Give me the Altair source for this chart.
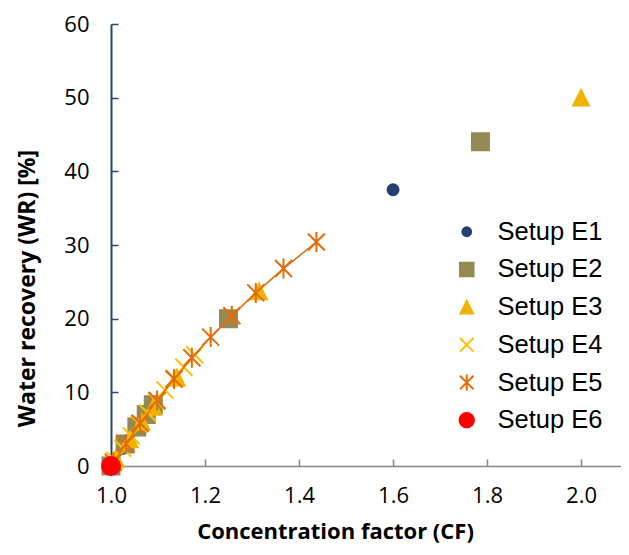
import altair as alt
import pandas as pd

# ---- data ----
series_names = ["Setup E1", "Setup E2", "Setup E3", "Setup E4", "Setup E5", "Setup E6"]

e1_cf = [1.005, 1.025, 1.6]
e1_wr = [0.5, 2.4, 37.5]

e2_cf = [1.0, 1.03, 1.055, 1.075, 1.09, 1.25, 1.786]
e2_wr = [0.0, 3.0, 5.3, 7.0, 8.3, 20.0, 44.0]

e3_cf = [1.01, 1.04, 1.065, 1.09, 1.14, 1.315, 2.0]
e3_wr = [1.0, 3.6, 6.0, 8.0, 12.0, 23.7, 50.0]

e4_cf = [1.008, 1.025, 1.043, 1.06, 1.078, 1.097, 1.115, 1.135, 1.155, 1.178]
e4_wr = [0.8, 2.4, 4.1, 5.7, 7.2, 8.8, 10.3, 11.9, 13.4, 15.1]

e5_cf = [1.005, 1.032, 1.062, 1.098, 1.134, 1.172, 1.212, 1.257, 1.308, 1.367, 1.437]
e5_wr = [0.5, 3.0, 5.8, 8.9, 11.8, 14.7, 17.5, 20.4, 23.5, 26.8, 30.4]

e6_cf = [1.0]
e6_wr = [0.0]

x_ticks = [1.0, 1.2, 1.4, 1.6, 1.8, 2.0]
y_ticks = [0, 10, 20, 30, 40, 50, 60]

# ---- styles ----
colors = ["#243F72", "#948A54", "#F0B400", "#FFC000", "#E46C0A", "#FF0000"]
shapes = [
    "M-0.55,0A0.55,0.55 0 1,0 0.55,0A0.55,0.55 0 1,0 -0.55,0Z",
    "M-0.85,-0.85L0.85,-0.85L0.85,0.85L-0.85,0.85Z",
    "M0,-0.78L0.78,0.78L-0.78,0.78Z",
    "M-0.85,-0.85L0.85,0.85M-0.85,0.85L0.85,-0.85",
    "M-0.85,-0.85L0.85,0.85M-0.85,0.85L0.85,-0.85M0,-1L0,1",
    "M-0.9,0A0.9,0.9 0 1,0 0.9,0A0.9,0.9 0 1,0 -0.9,0Z",
]

frames = []
for name, cf, wr in [
    ("Setup E1", e1_cf, e1_wr),
    ("Setup E2", e2_cf, e2_wr),
    ("Setup E3", e3_cf, e3_wr),
    ("Setup E4", e4_cf, e4_wr),
    ("Setup E5", e5_cf, e5_wr),
    ("Setup E6", e6_cf, e6_wr),
]:
    frames.append(pd.DataFrame({"series": name, "cf": cf, "wr": wr}))
df = pd.concat(frames, ignore_index=True)

W, H = 510, 442
xscale = alt.Scale(domain=[1.0, 2.085], nice=False, zero=False)
yscale = alt.Scale(domain=[0, 60], nice=False)
cscale = alt.Scale(domain=series_names, range=colors)
sscale = alt.Scale(domain=series_names, range=shapes)

legend = alt.Legend(
    title=None, orient="none", legendX=343, legendY=195, padding=0,
    labelFont="Liberation Sans", labelFontSize=25.5, labelColor="#000000",
    symbolSize=256, symbolStrokeWidth=2, rowPadding=10.7, labelOffset=18,
)

x_main = alt.Axis(
    orient="bottom", values=x_ticks, format=".1f", ticks=False, tickSize=0,
    grid=False, domainColor="#878787", domainWidth=1.5, labelFlush=False,
    labelFont="Open Sans", labelFontSize=22, labelColor="#000000", labelPadding=19,
    title="Concentration factor (CF)", titleFont="Open Sans", titleFontSize=22,
    titleFontWeight="bold", titleColor="#000000", titleX=224, titleY=65,
    titleBaseline="middle", titleAlign="center", titleAnchor="start",
)
y_main = alt.Axis(
    orient="left", values=y_ticks, ticks=False, tickSize=0, grid=False,
    domainColor="#264478", domainWidth=2, labelFlush=False,
    labelFont="Open Sans", labelFontSize=22, labelColor="#000000", labelPadding=22,
    title="Water recovery (WR) [%]", titleFont="Open Sans", titleFontSize=23,
    titleFontWeight="bold", titleColor="#000000", titleX=-84, titleY=264,
    titleBaseline="middle", titleAlign="center", titleAngle=-90, titleAnchor="start",
)
x_ticks_axis = alt.Axis(
    orient="top", offset=-H, values=x_ticks, domain=False, labels=False, grid=False,
    ticks=True, tickSize=7, tickColor="#878787", tickWidth=1.5, title=None,
)
y_ticks_axis = alt.Axis(
    orient="right", offset=-W, values=y_ticks, domain=False, labels=False, grid=False,
    ticks=True, tickSize=7, tickColor="#264478", tickWidth=1.5, title=None,
)

base = alt.Chart(df)

pts_a = base.transform_filter(
    alt.FieldOneOfPredicate(field="series", oneOf=series_names[:4])
).mark_point(filled=True, opacity=1, size=400, strokeWidth=2).encode(
    x=alt.X("cf:Q", scale=xscale, axis=x_main),
    y=alt.Y("wr:Q", scale=yscale, axis=y_main),
    fill=alt.Fill("series:N", scale=cscale, legend=legend),
    stroke=alt.Stroke("series:N", scale=cscale, legend=legend),
    shape=alt.Shape("series:N", scale=sscale, legend=legend),
)

line = base.transform_filter(
    alt.FieldEqualPredicate(field="series", equal="Setup E5")
).mark_line(color="#E46C0A", strokeWidth=1.5).encode(
    x=alt.X("cf:Q", scale=xscale, axis=x_ticks_axis),
    y=alt.Y("wr:Q", scale=yscale, axis=y_ticks_axis),
)

pts_b = base.transform_filter(
    alt.FieldOneOfPredicate(field="series", oneOf=series_names[4:])
).mark_point(filled=True, opacity=1, size=400, strokeWidth=2).encode(
    x=alt.X("cf:Q", scale=xscale, axis=None),
    y=alt.Y("wr:Q", scale=yscale, axis=None),
    fill=alt.Fill("series:N", scale=cscale, legend=legend),
    stroke=alt.Stroke("series:N", scale=cscale, legend=legend),
    shape=alt.Shape("series:N", scale=sscale, legend=legend),
)

chart = alt.layer(pts_a, line, pts_b).resolve_axis(
    x="independent", y="independent"
).properties(
    width=W, height=H,
    autosize=alt.AutoSizeParams(type="none"),
    padding={"left": 103, "top": 16, "right": 0, "bottom": 81},
    background="#ffffff",
).configure_view(stroke=None)

chart.save("out.html", embed_options={"renderer": "svg", "actions": False})
